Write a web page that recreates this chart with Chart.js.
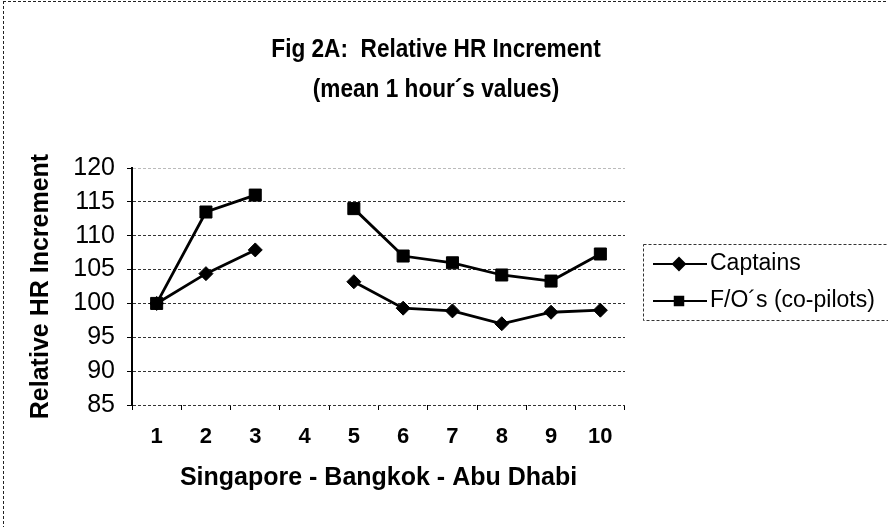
<!DOCTYPE html>
<html>
<head>
<meta charset="utf-8">
<script src="https://cdn.jsdelivr.net/npm/chart.js@4.4.0/dist/chart.umd.min.js"></script>
<style>
  html, body { margin: 0; padding: 0; background: #fff; }
  #wrap { width: 888px; height: 527px; }
</style>
</head>
<body>
<div id="wrap"><canvas id="chart" width="888" height="527"></canvas></div>
<script>
// =======================
//  DATA
// =======================
const legs = ["1", "2", "3", "4", "5", "6", "7", "8", "9", "10"];
const captains = [100, 104.4, 107.9, null, 103.2, 99.3, 98.9, 97.0, 98.7, 99.0];
const firstOfficers = [100, 113.5, 116.0, null, 114.0, 107.0, 106.0, 104.2, 103.3, 107.3];
const seriesNames = ["Captains", "F/O\u00b4s (co-pilots)"];
const yMin = 85, yMax = 120, yStep = 5;

const titleLines = ["Fig 2A:  Relative HR Increment", "(mean 1 hour\u00b4s values)"];
const xTitle = "Singapore - Bangkok - Abu Dhabi";
const yTitle = "Relative HR Increment";

const FONT = "'Liberation Sans', Arial, sans-serif";

// =======================
//  FRAME, TITLE, LEGEND
// =======================
const decor = {
  id: "decor",
  beforeDraw(chart) {
    const ctx = chart.ctx;
    ctx.save();
    ctx.fillStyle = "#fff";
    ctx.fillRect(0, 0, chart.width, chart.height);
    // outer dashed frame
    ctx.strokeStyle = "#222";
    ctx.lineWidth = 1;
    ctx.setLineDash([3, 2]);
    ctx.beginPath();
    ctx.moveTo(3, 1.5); ctx.lineTo(chart.width, 1.5);
    ctx.moveTo(3.5, 1); ctx.lineTo(3.5, chart.height);
    ctx.stroke();
    ctx.restore();
  },
  afterDraw(chart) {
    const ctx = chart.ctx;
    ctx.save();
    // title (narrow bold face, squeezed a bit)
    ctx.fillStyle = "#000";
    ctx.textAlign = "center";
    ctx.textBaseline = "middle";
    ctx.font = "bold 26px " + FONT;
    ctx.save();
    ctx.translate(436, 0);
    ctx.scale(0.87, 1);
    ctx.fillText(titleLines[0], 0, 50);
    ctx.fillText(titleLines[1], 0, 90);
    ctx.restore();

    // legend box
    ctx.strokeStyle = "#333";
    ctx.lineWidth = 1;
    ctx.setLineDash([3, 2]);
    ctx.strokeRect(643.5, 244.5, 250, 76);
    ctx.setLineDash([]);

    const rows = [264, 301];
    chart.data.datasets.forEach((ds, i) => {
      const y = rows[i];
      ctx.strokeStyle = "#000";
      ctx.lineWidth = 2;
      ctx.beginPath();
      ctx.moveTo(653, y); ctx.lineTo(707, y);
      ctx.stroke();
      ctx.fillStyle = "#000";
      Chart.helpers.drawPoint(ctx, {
        pointStyle: ds.pointStyle,
        radius: 6,
        borderWidth: 1
      }, 679, y);
      ctx.fill();
      ctx.fillStyle = "#000";
      ctx.textAlign = "left";
      ctx.font = "23px " + FONT;
      ctx.fillText(ds.label, 710, y);
    });
    ctx.restore();
  }
};

// =======================
//  CHART
// =======================
new Chart(document.getElementById("chart"), {
  type: "line",
  data: {
    labels: legs,
    datasets: [
      {
        label: seriesNames[0],
        data: captains,
        borderColor: "#000",
        backgroundColor: "#000",
        borderWidth: 2.8,
        pointStyle: "rectRot",
        pointRadius: 7,
        pointBorderWidth: 1,
        spanGaps: false,
        tension: 0
      },
      {
        label: seriesNames[1],
        data: firstOfficers,
        borderColor: "#000",
        backgroundColor: "#000",
        borderWidth: 2.8,
        pointStyle: "rect",
        pointRadius: 8.5,
        pointBorderWidth: 1,
        spanGaps: false,
        tension: 0
      }
    ]
  },
  options: {
    responsive: false,
    animation: false,
    devicePixelRatio: 1,
    layout: { padding: { top: 168, left: 26, right: 263, bottom: 27 } },
    plugins: {
      legend: { display: false },
      title: { display: false },
      tooltip: { enabled: false }
    },
    scales: {
      x: {
        offset: true,
        afterFit: s => { s.height = 95; },
        grid: {
          offset: true,
          drawOnChartArea: false,
          drawTicks: true,
          tickLength: 5,
          tickColor: "#000",
          color: "#000"
        },
        border: { display: false },
        ticks: {
          color: "#000",
          padding: 14,
          font: { family: FONT, size: 22, weight: "bold" }
        },
        title: {
          display: true,
          text: xTitle,
          color: "#000",
          padding: { top: 0, bottom: 7 },
          font: { family: FONT, size: 25, weight: "bold" }
        }
      },
      y: {
        min: yMin,
        max: yMax,
        afterFit: s => { s.width = 106; },
        grid: {
          color: ctx => (ctx.tick && ctx.tick.value === yMax ? "#bbb" : "#333"),
          lineWidth: 1,
          tickLength: 5,
          tickColor: "#000"
        },
        border: { display: true, color: "#000", width: 2, dash: [3, 2] },
        ticks: {
          stepSize: yStep,
          color: "#000",
          padding: 12,
          font: { family: FONT, size: 25 }
        },
        title: {
          display: true,
          text: yTitle,
          color: "#000",
          padding: { top: 0, bottom: 0 },
          font: { family: FONT, size: 25, weight: "bold" }
        }
      }
    }
  },
  plugins: [decor]
});
</script>
</body>
</html>
